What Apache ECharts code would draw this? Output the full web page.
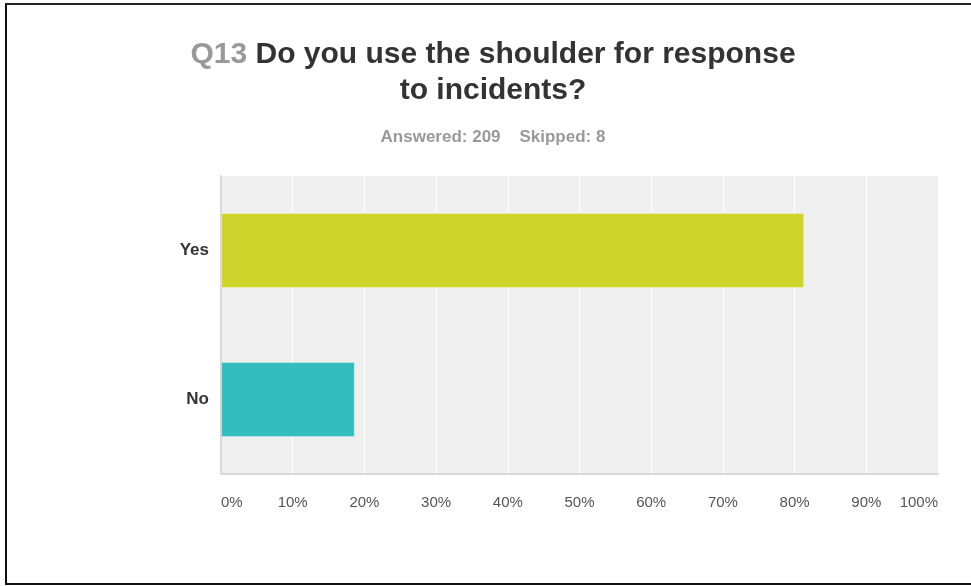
<!DOCTYPE html>
<html>
<head>
<meta charset="utf-8">
<script src="https://cdn.jsdelivr.net/npm/echarts@6/dist/echarts.min.js"></script>
<style>
html,body{margin:0;padding:0;background:#fff;}
#chart{width:971px;height:586px;}
</style>
</head>
<body>
<div id="chart"></div>
<script>
const categories = ['Yes', 'No'];
const values = [81.34, 18.66];
const barColors = ['#CED42A', '#33BDBF'];
const tickValues = [0, 10, 20, 30, 40, 50, 60, 70, 80, 90, 100];

const chart = echarts.init(document.getElementById('chart'));
const font = '"Liberation Sans", Arial, sans-serif';
chart.setOption({
  animation: false,
  backgroundColor: '#fff',
  title: [{
    text: '{q|Q13} Do you use the shoulder for response\nto incidents?',
    left: 488,
    top: 32,
    textAlign: 'center',
    textStyle: {
      fontFamily: font, fontSize: 30, fontWeight: 'bold', color: '#333', lineHeight: 36,
      rich: { q: { fontFamily: font, fontSize: 30, fontWeight: 'bold', color: '#999', lineHeight: 36 } }
    }
  }, {
    text: 'Answered: 209    Skipped: 8',
    left: 488,
    top: 124,
    textAlign: 'center',
    textStyle: { fontFamily: font, fontSize: 17, fontWeight: 'bold', color: '#999' }
  }],
  grid: {
    left: 221, right: 33, top: 176, bottom: 112,
    show: true, backgroundColor: '#efefef', borderWidth: 0
  },
  xAxis: {
    type: 'value', min: 0, max: 100, interval: 10,
    axisLine: { show: true, lineStyle: { color: '#d8d8d8', width: 2 } },
    axisTick: { show: false },
    splitLine: { show: true, lineStyle: { color: '#ffffff', width: 1 } },
    axisLabel: {
      formatter: v => tickValues.includes(v) ? v + '%' : '',
      fontFamily: font, fontSize: 15, color: '#555', margin: 21,
      alignMinLabel: 'left', alignMaxLabel: 'right'
    }
  },
  yAxis: {
    type: 'category', data: categories, inverse: true,
    axisLine: { show: true, lineStyle: { color: '#d8d8d8', width: 2 } },
    axisTick: { show: false },
    axisLabel: { fontFamily: font, fontSize: 17, fontWeight: 'bold', color: '#333', margin: 12 }
  },
  series: [{
    type: 'bar',
    data: values.map((v, i) => ({ value: v, itemStyle: { color: barColors[i] } })),
    barWidth: 75,
    itemStyle: { borderColor: 'rgba(255,255,255,0.35)', borderWidth: 1 }
  }],
  graphic: [
    { type: 'rect', shape: { x: 5, y: 3, width: 2, height: 582 }, style: { fill: '#111' } },
    { type: 'rect', shape: { x: 5, y: 3, width: 966, height: 2 }, style: { fill: '#222' } },
    { type: 'rect', shape: { x: 5, y: 583, width: 966, height: 2 }, style: { fill: '#111' } }
  ]
});
</script>
</body>
</html>
